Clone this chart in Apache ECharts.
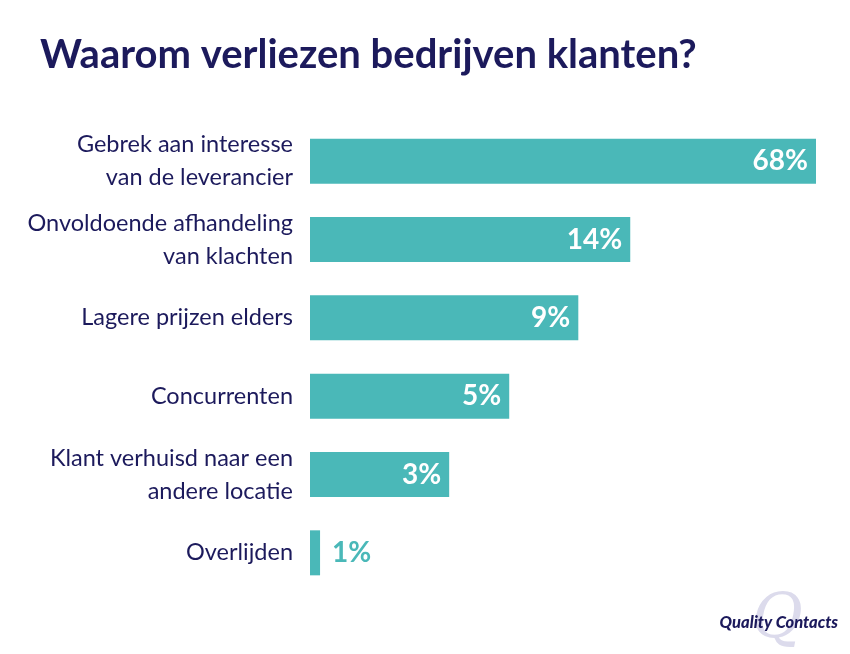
<!DOCTYPE html>
<html><head><meta charset="utf-8">
<script src="https://cdn.jsdelivr.net/npm/echarts@6/dist/echarts.min.js"></script>
<style>html,body{margin:0;padding:0;background:#fff}#c{width:850px;height:654px}</style>
</head><body><div id="c"></div>
<script>
const categories = [
  "Gebrek aan interesse\nvan de leverancier",
  "Onvoldoende afhandeling\nvan klachten",
  "Lagere prijzen elders",
  "Concurrenten",
  "Klant verhuisd naar een\nandere locatie",
  "Overlijden"
];
const values = [68, 14, 9, 5, 3, 1];
const title = "Waarom verliezen bedrijven klanten?";
const logoText = "Quality Contacts";

const NAVY = "#1c1a5c", TEAL = "#4ab8b8";
const chart = echarts.init(document.getElementById('c'), null, {renderer: 'canvas'});
chart.setOption({
  backgroundColor: '#fff',
  animation: false,
  title: {text: title, left: 35, top: 30, textStyle: {fontFamily: 'Lato', fontWeight: 'bold', fontSize: 40, color: NAVY}},
  grid: {left: 310, right: 34, top: 122, bottom: 62, containLabel: false},
  xAxis: {type: 'log', min: 0.918, max: 68, startValue: 0.918, show: false},
  yAxis: {type: 'category', data: categories, inverse: true,
    axisLine: {show: false}, axisTick: {show: false},
    axisLabel: {margin: 17, fontFamily: 'Lato', fontSize: 23.5, color: NAVY, lineHeight: 33, align: 'right'}},
  series: [{
    type: 'bar', barWidth: 45,
    data: values.map((v, i) => ({value: v,
      label: v < 2 ? {position: 'right', distance: 12, color: TEAL} : {}})),
    itemStyle: {color: TEAL},
    label: {show: true, position: 'insideRight', distance: 8, formatter: '{c}%',
      fontFamily: 'Lato', fontWeight: 'bold', fontSize: 28, color: '#fff'}
  }],
  graphic: [
    {type: 'text', left: 752, top: 590, z: 1, style: {text: 'Q', fontFamily: 'DejaVu Serif', fontSize: 62, fontStyle: 'italic', fill: '#dcdbec'}},
    {type: 'text', right: 12, top: 614, z: 2, style: {text: logoText, fontFamily: 'Lato', fontWeight: 900, fontStyle: 'italic', fontSize: 16.5, fill: NAVY}}
  ]
});
</script></body></html>
